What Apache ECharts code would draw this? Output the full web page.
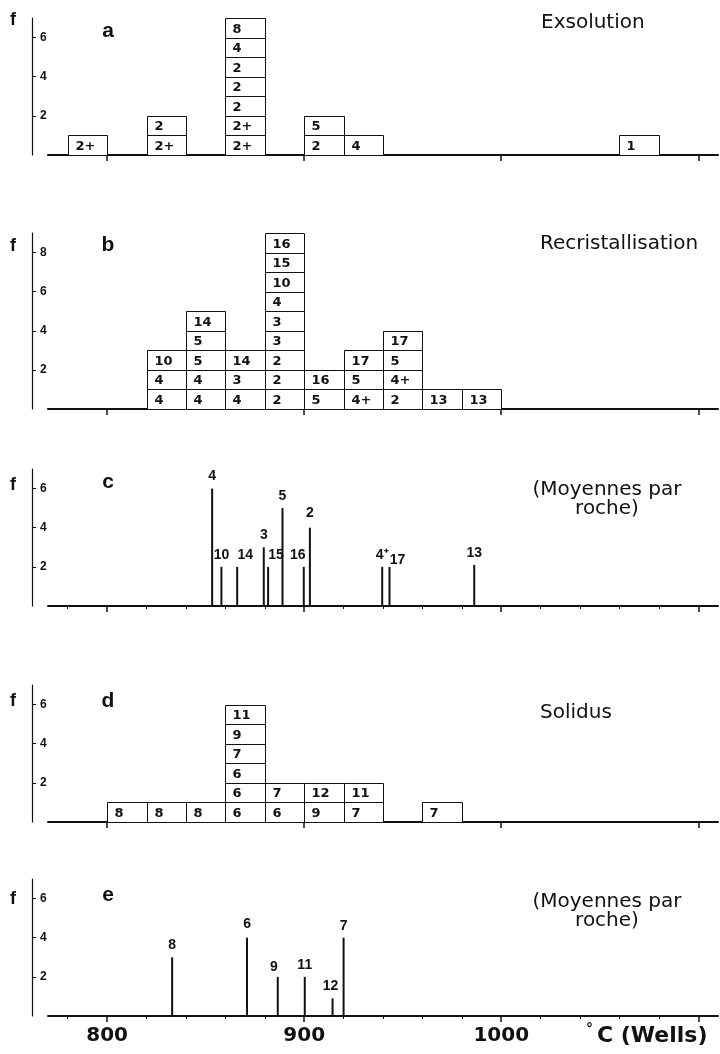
<!DOCTYPE html>
<html><head><meta charset="utf-8">
<script src="https://cdn.jsdelivr.net/npm/echarts@6/dist/echarts.min.js"></script>
<style>html,body{margin:0;padding:0;background:#fff}#chart{width:720px;height:1054px}</style>
</head><body><div id="chart"></div>
<script>
// ---------- DATA ----------
const xMin = 770, xMax = 1110, binWidth = 20;
const majorTicks = [800, 900, 1000, 1100];
const xTickLabels = [800, 900, 1000];
const minorTicks = [780, 820, 840, 860, 880, 920, 940, 960, 980, 1020, 1040, 1060, 1080];

// a — Exsolution (stacked boxes, bottom to top)
const exsolutionBinStarts = [780, 820, 860, 900, 920, 1060];
const exsolutionStacks = [["2+"], ["2+", "2"], ["2+", "2+", "2", "2", "2", "4", "8"], ["2", "5"], ["4"], ["1"]];

// b — Recristallisation
const recristBinStarts = [820, 840, 860, 880, 900, 920, 940, 960, 980];
const recristStacks = [["4", "4", "10"], ["4", "4", "5", "5", "14"], ["4", "3", "14"],
  ["2", "2", "2", "3", "3", "4", "10", "15", "16"], ["5", "16"], ["4+", "5", "17"],
  ["2", "4+", "5", "17"], ["13"], ["13"]];

// c — Moyennes par roche (recristallisation)
const recristMeanTemps = [853.3, 858, 866, 879.5, 881.7, 889, 899.8, 902.9, 939.6, 943.3, 986.3];
const recristMeanFreq = [6, 2, 2, 3, 2, 5, 2, 4, 2, 2, 2.1];
const recristMeanLabels = ["4", "10", "14", "3", "15", "5", "16", "2", "4\u207A", "17", "13"];

// d — Solidus
const solidusBinStarts = [800, 820, 840, 860, 880, 900, 920, 960];
const solidusStacks = [["8"], ["8"], ["8"], ["6", "6", "6", "7", "9", "11"], ["6", "7"], ["9", "12"], ["7", "11"], ["7"]];

// e — Moyennes par roche (solidus)
const solidusMeanTemps = [833, 871, 886.6, 900.3, 914.4, 920];
const solidusMeanFreq = [3, 4, 2, 2, 0.9, 4];
const solidusMeanLabels = ["8", "6", "9", "11", "12", "7"];

// ---------- LAYOUT / STYLE ----------
const INK = '#111';
const panels = [
  { type: 'stack', bins: exsolutionBinStarts, stacks: exsolutionStacks, yMax: 7, yTicks: [2, 4, 6], top: 18, height: 137,
    letter: 'a', letterY: 31, fY: 22, title: 'Exsolution', titleX: 541, titleY: 22.5, titleAlign: 'left' },
  { type: 'stack', bins: recristBinStarts, stacks: recristStacks, yMax: 9, yTicks: [2, 4, 6, 8], top: 233, height: 176,
    letter: 'b', letterY: 245, fY: 248, title: 'Recristallisation', titleX: 540, titleY: 244, titleAlign: 'left' },
  { type: 'spike', temps: recristMeanTemps, freq: recristMeanFreq, labels: recristMeanLabels, yMax: 7, yTicks: [2, 4, 6], top: 469, height: 137,
    letter: 'c', letterY: 482, fY: 487, title: '(Moyennes par\nroche)', titleX: 607, titleY: 499, titleAlign: 'center', minor: true,
    nudge: { "14": [8, 0], "15": [8, 0], "16": [-6, 0], "2": [0, -3], "17": [8, 5] } },
  { type: 'stack', bins: solidusBinStarts, stacks: solidusStacks, yMax: 7, yTicks: [2, 4, 6], top: 685, height: 137,
    letter: 'd', letterY: 701, fY: 703, title: 'Solidus', titleX: 540, titleY: 713, titleAlign: 'left' },
  { type: 'spike', temps: solidusMeanTemps, freq: solidusMeanFreq, labels: solidusMeanLabels, yMax: 7, yTicks: [2, 4, 6], top: 879, height: 137,
    letter: 'e', letterY: 895, fY: 901, title: '(Moyennes par\nroche)', titleX: 607, titleY: 911, titleAlign: 'center', minor: true,
    nudge: { "9": [-4, 2], "12": [-2, 0], "6": [0, -2] } }
];

const grids = [], xAxes = [], yAxes = [], series = [], graphics = [];
const minorAxes = [];

panels.forEach((p, i) => {
  grids.push({ left: 48, right: 2, top: p.top, height: p.height });
  xAxes.push({
    gridIndex: i, type: 'value', min: xMin, max: xMax, position: 'bottom',
    axisLine: { show: true, onZero: false, lineStyle: { color: INK, width: 2 } },
    axisTick: { show: true, customValues: majorTicks, length: 6, lineStyle: { color: INK, width: 1.5 } },
    axisLabel: { show: i === panels.length - 1, customValues: xTickLabels, margin: 10,
      formatter: v => String(v),
      fontFamily: 'DejaVu Sans', fontWeight: 'bold', fontSize: 20, color: INK },
    splitLine: { show: false }
  });
  yAxes.push({
    gridIndex: i, type: 'value', min: 0, max: p.yMax, offset: 16,
    axisLine: { show: true, onZero: false, lineStyle: { color: INK, width: 1.2 } },
    axisTick: { show: true, inside: true, length: 4, customValues: p.yTicks, lineStyle: { color: INK, width: 1 } },
    axisLabel: { show: true, inside: true, margin: 8, customValues: p.yTicks,
      fontFamily: 'Liberation Sans', fontWeight: 'bold', fontSize: 12, color: INK },
    splitLine: { show: false }
  });
  if (p.minor) minorAxes.push(i);

  if (p.type === 'stack') {
    const items = [], labels = [];
    p.bins.forEach((b, k) => {
      p.stacks[k].forEach((lab, lvl) => { items.push([b, lvl]); labels.push(lab); });
    });
    series.push({
      type: 'custom', coordinateSystem: 'cartesian2d', xAxisIndex: i, yAxisIndex: i,
      data: items, encode: { x: 0, y: 1 }, silent: true,
      renderItem: (params, api) => {
        const x0 = api.value(0), lvl = api.value(1);
        const a = api.coord([x0, lvl]);
        const b = api.coord([x0 + binWidth, lvl + 1]);
        const L = Math.round(a[0]) + 0.5, R = Math.round(b[0]) + 0.5;
        const B = Math.round(a[1]) + 0.5, T = Math.round(b[1]) + 0.5;
        return {
          type: 'group', children: [
            { type: 'rect', shape: { x: L, y: T, width: R - L, height: B - T },
              style: { fill: '#fff', stroke: INK, lineWidth: 1 } },
            { type: 'text', style: { text: labels[params.dataIndex], x: L + 7, y: (T + B) / 2 + 1,
              verticalAlign: 'middle', align: 'left', fill: INK,
              font: 'bold 13px "DejaVu Sans"' } }
          ]
        };
      }
    });
  } else {
    const items = p.temps.map((t, k) => [t, p.freq[k]]);
    series.push({
      type: 'custom', coordinateSystem: 'cartesian2d', xAxisIndex: i, yAxisIndex: i,
      data: items, encode: { x: 0, y: 1 }, silent: true,
      renderItem: (params, api) => {
        const t = api.value(0), f = api.value(1);
        const a = api.coord([t, 0]);
        const b = api.coord([t, f]);
        const lab = p.labels[params.dataIndex];
        const n = (p.nudge && p.nudge[lab]) || [0, 0];
        return {
          type: 'group', children: [
            { type: 'line', shape: { x1: a[0], y1: a[1], x2: b[0], y2: b[1] },
              style: { stroke: INK, lineWidth: 2 } },
            { type: 'text', style: { text: lab, x: b[0] + n[0], y: b[1] - 12 + n[1],
              verticalAlign: 'middle', align: 'center', fill: INK,
              font: 'bold 14px "Liberation Sans"' } }
          ]
        };
      }
    });
  }

  graphics.push({ type: 'text', left: 10, top: p.fY - 11,
    style: { text: 'f', font: 'bold 18px "Liberation Sans"', fill: INK } });
  graphics.push({ type: 'text', x: 108, y: p.letterY,
    style: { text: p.letter, font: 'bold 21px "Liberation Sans"', fill: INK, align: 'center', verticalAlign: 'middle' } });
  graphics.push({ type: 'text', x: p.titleX, y: p.titleY,
    style: { text: p.title, font: '20px "DejaVu Sans"', fill: INK, align: p.titleAlign,
      verticalAlign: 'middle', lineHeight: 19 } });
});

// minor tick axes for panels c and e
minorAxes.forEach(gi => {
  xAxes.push({
    gridIndex: gi, type: 'value', min: xMin, max: xMax, position: 'bottom',
    axisLine: { show: false, onZero: false },
    axisTick: { show: true, customValues: minorTicks, length: 3, lineStyle: { color: INK, width: 1 } },
    axisLabel: { show: false },
    splitLine: { show: false }
  });
});

// axis unit
graphics.push({ type: 'text', x: 586, y: 1029,
  style: { text: '°', font: 'bold 14px "DejaVu Sans"', fill: INK, align: 'left', verticalAlign: 'middle' } });
graphics.push({ type: 'text', x: 597, y: 1036,
  style: { text: 'C (Wells)', font: 'bold 22px "DejaVu Sans"', fill: INK, align: 'left', verticalAlign: 'middle' } });

const chart = echarts.init(document.getElementById('chart'), null, { renderer: 'canvas' });
chart.setOption({
  animation: false,
  backgroundColor: '#fff',
  grid: grids, xAxis: xAxes, yAxis: yAxes, series: series, graphic: graphics
});
</script></body></html>
